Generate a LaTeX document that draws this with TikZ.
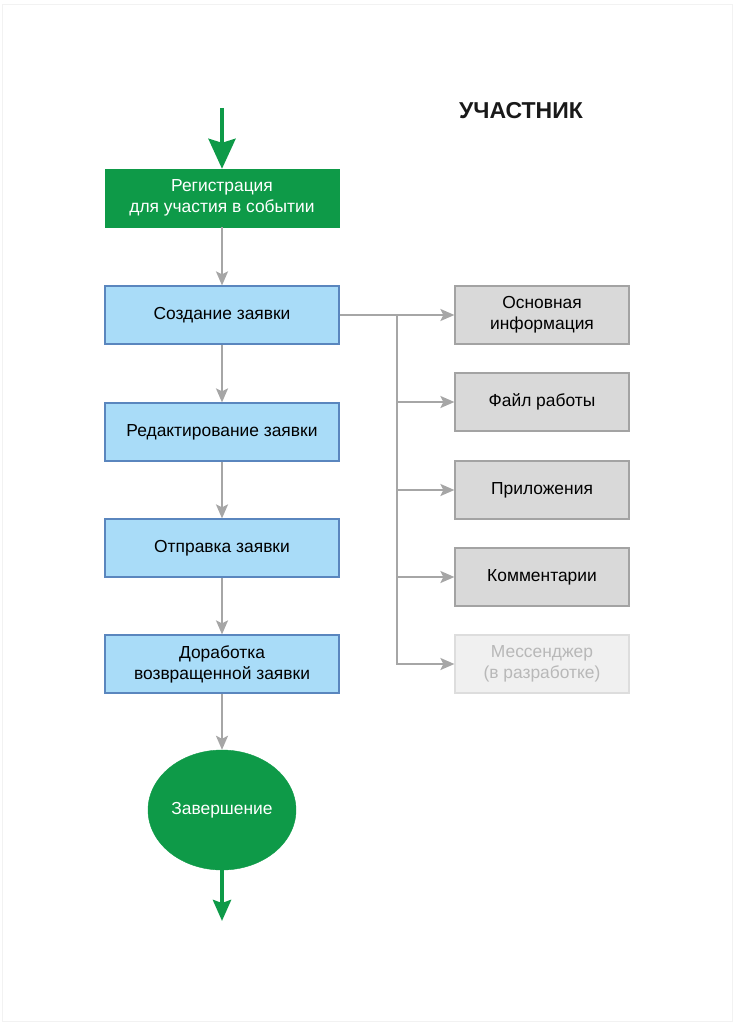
\documentclass[tikz,border=0pt]{standalone}
\usepackage{fontspec}
\setmainfont{Liberation Sans}
\usetikzlibrary{shapes.geometric,arrows.meta}
\definecolor{grn}{HTML}{0E9A48}
\definecolor{bfill}{HTML}{A9DCF8}
\definecolor{bline}{HTML}{5A86BE}
\definecolor{gfill}{HTML}{D9D9D9}
\definecolor{gline}{HTML}{A3A3A3}
\definecolor{lfill}{HTML}{F0F0F0}
\definecolor{lline}{HTML}{DDDDDD}
\definecolor{ltext}{HTML}{B8B8B8}
\definecolor{arr}{HTML}{A6A6A6}
\tikzset{
  boxbase/.style={rectangle, minimum width=234pt, minimum height=58pt, inner sep=0pt, align=center, font=\fontsize{17.4}{21}\selectfont},
  greenbox/.style={boxbase, fill=grn, draw=grn, text=white},
  bluebox/.style={boxbase, fill=bfill, draw=bline, line width=1.2pt, text=black},
  graybox/.style={rectangle, minimum width=174pt, minimum height=58pt, inner sep=0pt, align=center, font=\fontsize{17.4}{21}\selectfont, fill=gfill, draw=gline, line width=1.2pt, text=black},
  lightbox/.style={graybox, fill=lfill, draw=lline, text=ltext},
  endnode/.style={ellipse, minimum width=148pt, minimum height=120pt, inner sep=0pt, fill=grn, draw=grn, text=white, font=\fontsize{17.4}{21}\selectfont},
  garrow/.style={draw=arr, line width=2pt, -{Stealth[length=14pt,width=12pt,inset=3pt]}},
  bigarrow/.style={draw=grn, line width=4pt, -{Stealth[length=30pt,width=27pt,inset=4pt]}},
  smallarrow/.style={draw=grn, line width=4pt, -{Stealth[length=21pt,width=18pt,inset=3pt]}}
}
\begin{document}
\begin{tikzpicture}[x=1pt,y=-1pt]
\useasboundingbox (0,0) rectangle (735,1024);
\draw[black!5, line width=1pt] (2,5) rectangle (732,1021);

\node[font=\fontsize{23}{26}\selectfont\bfseries, text=black!90] (title) at (521,111) {УЧАСТНИК};

\coordinate (start) at (222,108);
\node[greenbox] (reg) at (222,198) {Регистрация\\для участия в событии};
\node[bluebox] (b1) at (222,315) {Создание заявки};
\node[bluebox] (b2) at (222,432) {Редактирование заявки};
\node[bluebox] (b3) at (222,548) {Отправка заявки};
\node[bluebox] (b4) at (222,664) {Доработка\\возвращенной заявки};
\node[endnode] (fin) at (222,810) {Завершение};
\coordinate (stop) at (222,921);

\node[graybox] (g1) at (542,315) {Основная\\информация};
\node[graybox] (g2) at (542,402) {Файл работы};
\node[graybox] (g3) at (542,490) {Приложения};
\node[graybox] (g4) at (542,577) {Комментарии};
\node[lightbox] (g5) at (542,664) {Мессенджер\\(в разработке)};

\draw[bigarrow] (start) -- (reg.north);
\draw[garrow] (reg.south) -- (b1.north);
\draw[garrow] (b1.south) -- (b2.north);
\draw[garrow] (b2.south) -- (b3.north);
\draw[garrow] (b3.south) -- (b4.north);
\draw[garrow] (b4.south) -- (fin.north);
\draw[smallarrow] (fin.south) -- (stop);

\coordinate (j0) at (397,315);
\draw[garrow] (b1.east) -- (g1.west);
\draw[garrow] (j0) |- (g5.west);
\draw[garrow] (j0 |- g2.west) -- (g2.west);
\draw[garrow] (j0 |- g3.west) -- (g3.west);
\draw[garrow] (j0 |- g4.west) -- (g4.west);
\end{tikzpicture}
\end{document}
